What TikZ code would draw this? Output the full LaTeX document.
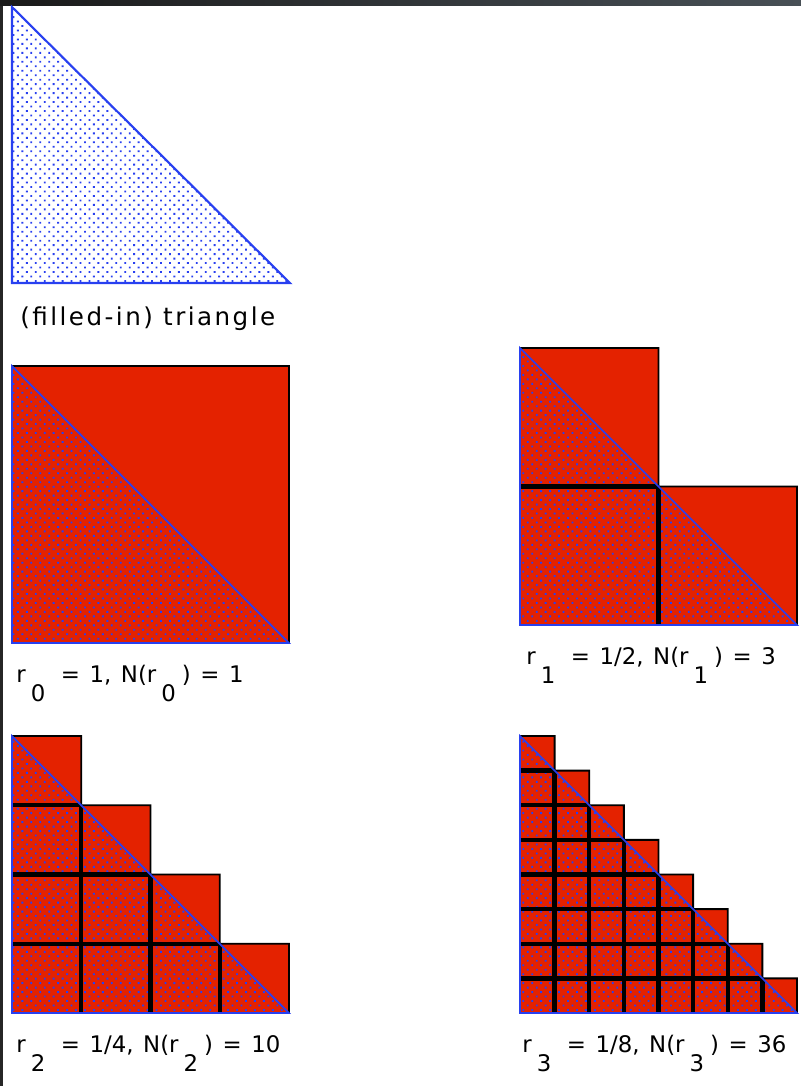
\documentclass[tikz,border=0pt]{standalone}
\usepackage{fontspec}
\setmainfont{DejaVu Sans}
\usetikzlibrary{patterns.meta}
\definecolor{boxred}{RGB}{228,34,0}
\definecolor{dotblue}{RGB}{40,64,240}
\definecolor{framegray}{RGB}{72,80,86}
\newcommand{\lowidx}[1]{\hspace{0.22em}\raisebox{-0.85em}{#1}\hspace{0.26em}}
\newcommand{\widesp}{\spaceskip=0.42em\relax}

\begin{document}
\begin{tikzpicture}[x=0.02cm, y=-0.02cm,
	dotfill/.style={pattern={Dots[distance=3.6pt, radius=0.75pt, angle=45]}, pattern color=dotblue},
	cell/.style={fill=boxred, draw=black, line width=1.1pt, line join=miter},
	gridline/.style={draw=black, line width=2.5pt},
	edge/.style={draw=dotblue, line width=1pt},
	lab/.style={anchor=base west, inner sep=0pt, font=\fontsize{13}{15}\selectfont}
	]
	
	% --- frame ---
	\useasboundingbox (0,0) rectangle (801,1086);
	\fill[white] (0,0) rectangle (801,1086);
	\fill[black!85] (0,0) rectangle (3,1086);
	\shade[left color=black!90, right color=framegray] (0,0) rectangle (801,5);
	
	% --- filled-in triangle ---
	\path[dotfill] (12,7) -- (12,283) -- (290,283) -- cycle;
	\draw[dotblue, line width=1.2pt] (12,7) -- (12,283) -- (290,283) -- cycle;
	\node[lab, font=\fontsize{14}{16}\selectfont] (trilabel) at (20,325) {\addfontfeatures{LetterSpace=10}(filled-in) triangle};
	
	% --- box coverings ---
	\foreach \fx/\fy/\k/\idx/\rv/\nv/\lx in {12/643/1/0/1/1/16, 520/625/2/1/{1/2}/3/526, 12/1013/4/2/{1/4}/10/16, 520/1013/8/3/{1/8}/36/522}
	{
		\pgfmathsetmacro{\s}{277/\k}
		% staircase of boxes
		\draw[cell] (\fx,\fy) -- (\fx,\fy-277)
			\foreach \i in {1,...,\k} { -- ++(\s,0) -- ++(0,\s) } -- cycle;
		% dotted triangle
		\path[dotfill] (\fx,\fy) -- (\fx,\fy-277) -- (\fx+277,\fy) -- cycle;
		% inner box edges
		\ifnum\k>1
			\foreach \i in {1,...,\numexpr\k-1\relax} {
				\draw[gridline] (\fx+\i*\s,\fy) -- ++(0,-\k*\s+\i*\s);
				\draw[gridline] (\fx,\fy-\i*\s) -- ++(\k*\s-\i*\s,0);
			}
		\fi
		\draw[edge] (\fx+277,\fy) -- (\fx,\fy) -- (\fx,\fy-277) -- cycle;
		% label
		\node[lab] (label\idx) at (\lx,\fy+39) {\widesp r\lowidx{\idx} = \rv, N(r\lowidx{\idx}) = \nv};
	}
	
\end{tikzpicture}
\end{document}
